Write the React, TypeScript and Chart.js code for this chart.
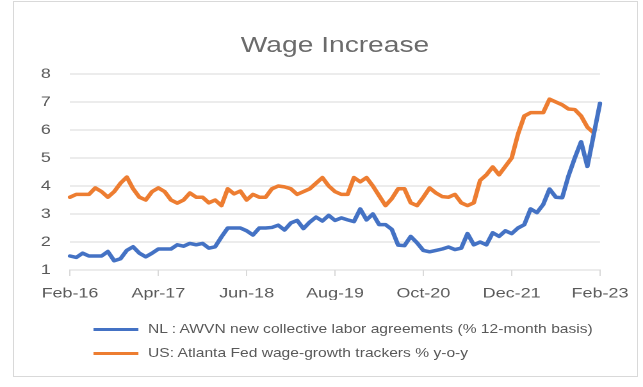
import React, { useEffect, useRef } from "react";
import { Chart, registerables } from "chart.js";

Chart.register(...registerables);

const months: string[] = [
  "Feb-16","Mar-16","Apr-16","May-16","Jun-16","Jul-16","Aug-16","Sep-16","Oct-16","Nov-16","Dec-16",
  "Jan-17","Feb-17","Mar-17","Apr-17","May-17","Jun-17","Jul-17","Aug-17","Sep-17","Oct-17","Nov-17","Dec-17",
  "Jan-18","Feb-18","Mar-18","Apr-18","May-18","Jun-18","Jul-18","Aug-18","Sep-18","Oct-18","Nov-18","Dec-18",
  "Jan-19","Feb-19","Mar-19","Apr-19","May-19","Jun-19","Jul-19","Aug-19","Sep-19","Oct-19","Nov-19","Dec-19",
  "Jan-20","Feb-20","Mar-20","Apr-20","May-20","Jun-20","Jul-20","Aug-20","Sep-20","Oct-20","Nov-20","Dec-20",
  "Jan-21","Feb-21","Mar-21","Apr-21","May-21","Jun-21","Jul-21","Aug-21","Sep-21","Oct-21","Nov-21","Dec-21",
  "Jan-22","Feb-22","Mar-22","Apr-22","May-22","Jun-22","Jul-22","Aug-22","Sep-22","Oct-22","Nov-22","Dec-22",
  "Jan-23","Feb-23",
];

const nlValues: number[] = [
  1.5, 1.45, 1.6, 1.5, 1.5, 1.5, 1.66, 1.33, 1.4, 1.7, 1.83, 1.6, 1.47, 1.6, 1.75, 1.75, 1.75,
  1.9, 1.85, 1.95, 1.9, 1.95, 1.78, 1.83, 2.18, 2.5, 2.5, 2.5, 2.4, 2.25, 2.5, 2.5, 2.52, 2.6,
  2.43, 2.68, 2.77, 2.48, 2.71, 2.89, 2.75, 2.95, 2.77, 2.86, 2.79, 2.73, 3.18, 2.79, 3.0, 2.62,
  2.62, 2.45, 1.89, 1.87, 2.2, 1.97, 1.7, 1.65, 1.7, 1.75, 1.82, 1.73, 1.78, 2.3, 1.9, 2.0, 1.9,
  2.33, 2.2, 2.4, 2.3, 2.5, 2.62, 3.18, 3.05, 3.34, 3.89, 3.6, 3.58, 4.36, 5.0, 5.58, 4.7, 5.83, 6.95,
];

const usValues: number[] = [
  3.6, 3.7, 3.7, 3.7, 3.93, 3.8, 3.6, 3.8, 4.1, 4.32, 3.9, 3.6, 3.5, 3.8, 3.93, 3.8, 3.5, 3.39,
  3.5, 3.75, 3.6, 3.6, 3.4, 3.5, 3.3, 3.9, 3.72, 3.82, 3.5, 3.7, 3.6, 3.6, 3.9, 4.0, 3.97, 3.9,
  3.7, 3.8, 3.9, 4.1, 4.3, 4.0, 3.8, 3.7, 3.7, 4.3, 4.15, 4.3, 4.0, 3.65, 3.3, 3.55, 3.9, 3.9,
  3.4, 3.3, 3.6, 3.93, 3.75, 3.62, 3.6, 3.7, 3.4, 3.3, 3.4, 4.2, 4.4, 4.68, 4.4, 4.7, 5.0, 5.85,
  6.5, 6.62, 6.62, 6.62, 7.1, 7.0, 6.9, 6.75, 6.73, 6.5, 6.1, 5.9,
];

const yMin = 1;
const yMax = 8;
const tickEvery = 14;

const chartTitle = "Wage Increase";
const seriesNames: string[] = [
  "NL : AWVN new collective labor agreements (% 12-month basis)",
  "US: Atlanta Fed wage-growth trackers % y-o-y",
];
const seriesColors: string[] = ["#4472C4", "#ED7D31"];

const LW = 502; // logical width, stretched horizontally to 643
const H = 387;
const SX = 643 / LW;
const FONT = "'Liberation Sans', Arial, sans-serif";
const TEXT = "#595959";
const GRID = "#d9d9d9";

export default function App() {
  const ref = useRef<HTMLCanvasElement>(null);

  useEffect(() => {
    if (!ref.current) return;
    const chart = new Chart(ref.current, {
      type: "line",
      data: {
        labels: months,
        datasets: [
          {
            label: seriesNames[0],
            data: nlValues,
            borderColor: seriesColors[0],
            backgroundColor: seriesColors[0],
            borderWidth: 3.5,
            pointRadius: 0,
            tension: 0,
            borderJoinStyle: "round",
            borderCapStyle: "round",
          },
          {
            label: seriesNames[1],
            data: usValues,
            borderColor: seriesColors[1],
            backgroundColor: seriesColors[1],
            borderWidth: 3.5,
            pointRadius: 0,
            tension: 0,
            borderJoinStyle: "round",
            borderCapStyle: "round",
          },
        ],
      },
      options: {
        responsive: false,
        animation: false,
        devicePixelRatio: 2,
        layout: {
          padding: { left: 0, right: LW - 600 / SX, top: 74, bottom: H - 270 - 30 },
        },
        plugins: {
          legend: { display: false },
          title: { display: false },
          tooltip: { enabled: false },
        },
        scales: {
          x: {
            type: "category",
            offset: false,
            afterBuildTicks: (s: any) => {
              s.ticks = s.ticks.filter((_t: any, i: number) => i % tickEvery === 0);
            },
            afterFit: (s: any) => {
              s.height = 30;
            },
            ticks: {
              autoSkip: false,
              maxRotation: 0,
              minRotation: 0,
              padding: 9,
              color: TEXT,
              font: { family: FONT, size: 14 },
            },
            grid: {
              drawOnChartArea: false,
              drawTicks: true,
              tickLength: 6,
              color: GRID,
            },
            border: { display: true, color: GRID, width: 1 },
          },
          y: {
            min: yMin,
            max: yMax,
            afterFit: (s: any) => {
              s.width = 70 / SX;
            },
            ticks: {
              stepSize: 1,
              padding: 15,
              color: TEXT,
              font: { family: FONT, size: 14 },
            },
            grid: { color: GRID, drawTicks: false },
            border: { display: false },
          },
        },
      },
    });
    return () => chart.destroy();
  }, []);

  const legendRow = (i: number, cy: number) => (
    <div key={i} style={{ position: "absolute", left: 0, top: cy - 9, height: 18, width: LW }}>
      <div
        style={{
          position: "absolute",
          left: 94 / SX,
          width: 44 / SX,
          top: 7.5,
          height: 3,
          background: seriesColors[i],
        }}
      />
      <div
        style={{
          position: "absolute",
          left: 148 / SX,
          top: 0,
          lineHeight: "18px",
          fontFamily: FONT,
          fontSize: 12.2,
          color: TEXT,
          whiteSpace: "nowrap",
        }}
      >
        {seriesNames[i]}
      </div>
    </div>
  );

  return (
    <div style={{ position: "absolute", left: 0, top: 0, width: 643, height: H, background: "#fff", overflow: "hidden" }}>
      <div
        style={{
          position: "absolute",
          left: 13,
          top: 1,
          width: 625,
          height: 376,
          boxSizing: "border-box",
          border: "1px solid #d9d9d9",
        }}
      />
      <div
        style={{
          position: "absolute",
          left: 0,
          top: 0,
          width: LW,
          height: H,
          transform: `scaleX(${SX})`,
          transformOrigin: "0 0",
        }}
      >
        <canvas ref={ref} width={LW} height={H} style={{ display: "block" }} />
        <div
          style={{
            position: "absolute",
            left: 335 / SX - 150,
            width: 300,
            top: 32,
            lineHeight: "26px",
            textAlign: "center",
            fontFamily: FONT,
            fontSize: 22,
            color: "#6b6b6b",
            whiteSpace: "nowrap",
          }}
        >
          {chartTitle}
        </div>
        {legendRow(0, 329)}
        {legendRow(1, 353)}
      </div>
    </div>
  );
}
